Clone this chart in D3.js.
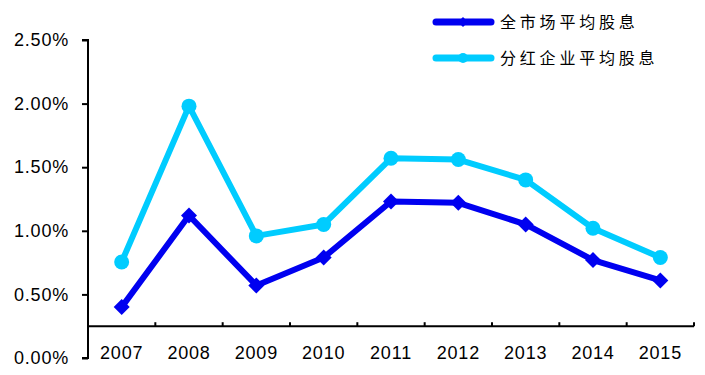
<!DOCTYPE html>
<html>
<head>
<meta charset="utf-8">
<script src="https://cdn.jsdelivr.net/npm/d3@7"></script>
<style>
body{margin:0;background:#fff;}
svg{display:block;}
</style>
</head>
<body>
<div id="chart"></div>
<script>
const width=705;
const height=375;
const years=["2007","2008","2009","2010","2011","2012","2013","2014","2015"];
const marketYield=[0.40,1.12,0.57,0.79,1.23,1.22,1.05,0.77,0.61];
const payerYield=[0.755,1.98,0.96,1.05,1.57,1.56,1.40,1.02,0.79];
const yTicks=[0,0.5,1.0,1.5,2.0,2.5];
const seriesNames=["全市场平均股息","分红企业平均股息"];
const colors={market:"#0000f0",payer:"#00ccff"};

const svg=d3.select("#chart").append("svg")
    .attr("width",width).attr("height",height);

const x=d3.scaleBand().domain(years).range([88,694]);
const y=d3.scaleLinear().domain([0,2.5]).range([358,40]);
const crossAt=0.25;

// y axis
const yAxis=d3.axisLeft(y).tickValues(yTicks).tickSize(6).tickPadding(13)
    .tickFormat(d=>d.toFixed(2)+"%");
const gy=svg.append("g").attr("transform","translate(88,0)").call(yAxis);
gy.select(".domain").attr("stroke","#000").attr("stroke-width",2)
    .attr("d","M-6,40H0V358H-6");
gy.selectAll(".tick line").attr("stroke","#000").attr("stroke-width",2);
gy.selectAll(".tick text").attr("fill","#000")
    .style("font-family","'Liberation Sans',Arial,sans-serif")
    .style("font-size","18px").style("letter-spacing","0.8px");

// x axis crossing at 0.25%
const gx=svg.append("g").attr("transform",`translate(0,${y(crossAt)})`);
gx.append("line").attr("x1",88).attr("x2",694).attr("y1",0).attr("y2",0)
    .attr("stroke","#000").attr("stroke-width",2);
gx.selectAll(".xt").data(years).enter().append("line")
    .attr("x1",d=>x(d)+x.bandwidth()).attr("x2",d=>x(d)+x.bandwidth())
    .attr("y1",0).attr("y2",-4).attr("stroke","#000").attr("stroke-width",2);
svg.selectAll(".xlab").data(years).enter().append("text")
    .attr("x",d=>x(d)+x.bandwidth()/2).attr("y",359)
    .attr("text-anchor","middle")
    .style("font-family","'Liberation Sans',Arial,sans-serif")
    .style("font-size","18px").style("letter-spacing","0.8px")
    .text(d=>d);

const line=d3.line().x((d,i)=>x(years[i])+x.bandwidth()/2).y(d=>y(d));

function drawSeries(vals,color,shape){
    svg.append("path").datum(vals)
        .attr("fill","none").attr("stroke",color).attr("stroke-width",6)
        .attr("stroke-linejoin","round").attr("d",line);
    svg.selectAll(null).data(vals).enter().append("path")
        .attr("transform",(d,i)=>`translate(${x(years[i])+x.bandwidth()/2},${y(d)})`)
        .attr("fill",color)
        .attr("d",shape);
}
const diamond="M0,-8L8,0L0,8L-8,0Z";
const circle=d3.symbol().type(d3.symbolCircle).size(Math.PI*7.5*7.5)();
drawSeries(payerYield,colors.payer,circle);
drawSeries(marketYield,colors.market,diamond);

// legend
const legend=[
    {name:seriesNames[0],color:colors.market,shape:"M0,-5L5,0L0,5L-5,0Z",y:22},
    {name:seriesNames[1],color:colors.payer,shape:d3.symbol().type(d3.symbolCircle).size(Math.PI*5*5)(),y:58}
];
const lg=svg.selectAll(".lg").data(legend).enter().append("g")
    .attr("transform",d=>`translate(0,${d.y})`);
lg.append("line").attr("x1",436).attr("x2",491).attr("y1",0).attr("y2",0)
    .attr("stroke",d=>d.color).attr("stroke-width",7).attr("stroke-linecap","round");
lg.append("path").attr("transform","translate(463,0)").attr("d",d=>d.shape)
    .attr("fill",d=>d.color);
lg.append("text").attr("x",500).attr("y",6)
    .style("font-family","'Noto Sans CJK SC',sans-serif")
    .style("font-size","16px").style("letter-spacing","3.8px")
    .text(d=>d.name);
</script>
</body>
</html>
